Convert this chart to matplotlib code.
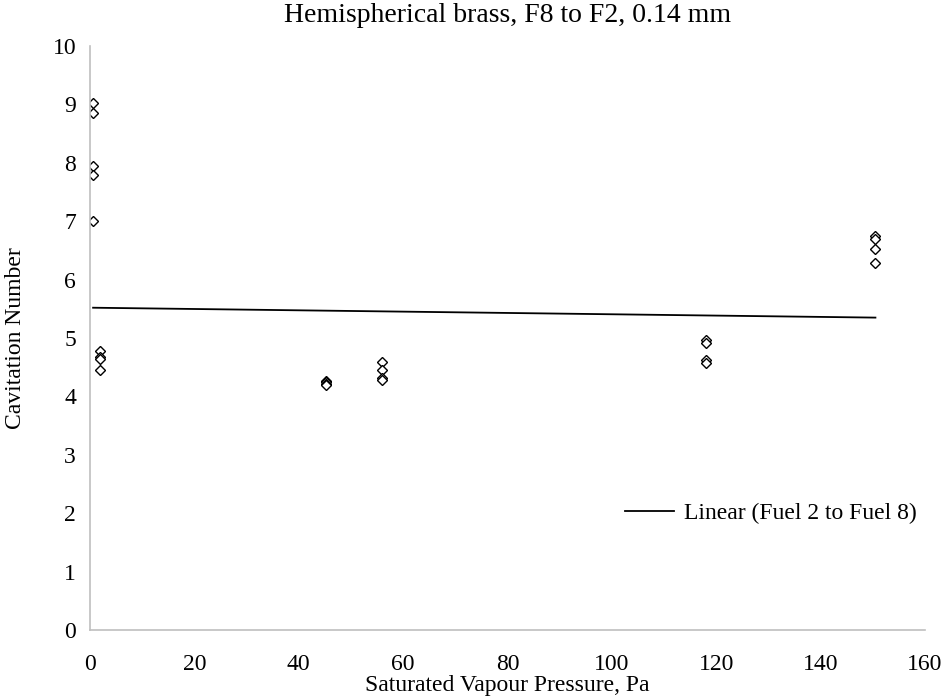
import numpy as np
import matplotlib
matplotlib.use("Agg")
import matplotlib.pyplot as plt

plt.rcParams['font.family'] = ['Liberation Serif', 'DejaVu Serif']

# datos (presion de vapor, numero de cavitacion)
vap_pressure = [0.6, 0.6, 0.6, 0.6, 0.6,
                2.0, 2.0, 2.0, 2.0,
                45.3, 45.3, 45.3, 45.3,
                56.0, 56.0, 56.0, 56.0,
                118.0, 118.0, 118.0, 118.0,
                150.5, 150.5, 150.5, 150.5]
cav_number = [9.03, 8.86, 7.95, 7.80, 7.01,
              4.78, 4.68, 4.64, 4.45,
              4.27, 4.25, 4.22, 4.20,
              4.59, 4.45, 4.32, 4.28,
              4.97, 4.92, 4.62, 4.58,
              6.75, 6.70, 6.52, 6.28]

# linea de tendencia tal como aparece en la figura (Excel)
trend_intercept = 5.52
trend_slope = -0.00113

x = np.array(vap_pressure)
y = np.array(cav_number)
xt = np.array([x.min(), x.max()])

fig = plt.figure(figsize=(9.41, 6.98), dpi=100)
ax = fig.add_axes([0.0956, 0.0974, 0.8874, 0.8366])

ax.plot(x, y, linestyle='none', marker='D', markersize=4.6,
        markerfacecolor='white', markeredgecolor='black', markeredgewidth=1.0)
ax.plot(xt, trend_intercept + trend_slope*xt, color='black', linewidth=1.3,
        label="Linear (Fuel 2 to Fuel 8)")

ax.set_xlim(0, 160)
ax.set_ylim(0, 10)
ax.set_xticks(np.arange(0, 161, 20))
ax.set_yticks(np.arange(0, 11, 1))
ax.tick_params(length=0, labelsize=17)
ax.tick_params(axis='x', pad=17)
ax.tick_params(axis='y', pad=10)
for s in ['top', 'right']:
    ax.spines[s].set_visible(False)
for s in ['left', 'bottom']:
    ax.spines[s].set_color('#bfbfbf')
    ax.spines[s].set_linewidth(1.2)

ax.set_xlabel("Saturated Vapour Pressure, Pa", fontsize=17, labelpad=0)
ax.set_ylabel("Cavitation Number", fontsize=17, labelpad=19)
ax.set_title("Hemispherical brass, F8 to F2, 0.14 mm", fontsize=20, pad=17)

ax.legend(loc='center right', bbox_to_anchor=(1.015, 0.2), frameon=False,
          fontsize=17, handlelength=2.1, handletextpad=0.4)

fig.savefig("out.png", dpi=100)
